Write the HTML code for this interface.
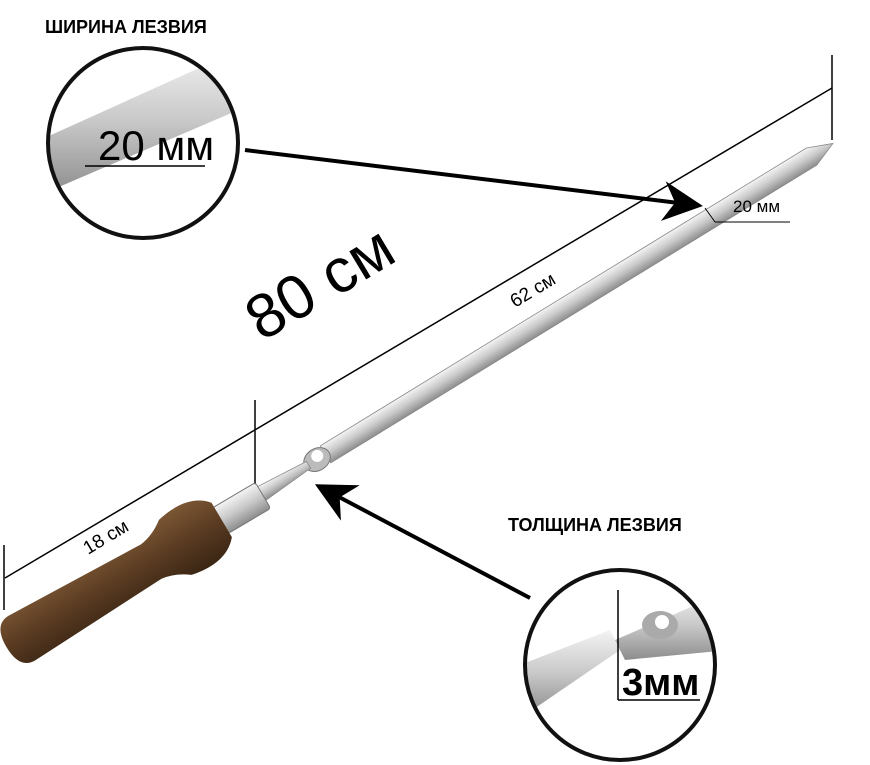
<!DOCTYPE html>
<html><head><meta charset="utf-8"><style>
html,body{margin:0;padding:0;background:#fff;width:870px;height:765px;overflow:hidden}
text{font-family:"Liberation Sans","DejaVu Sans",sans-serif}
</style></head><body>
<svg width="870" height="765" viewBox="0 0 870 765" xmlns="http://www.w3.org/2000/svg">
<defs>
<linearGradient id="steel" x1="0" y1="0" x2="0" y2="1">
<stop offset="0" stop-color="#f4f4f4"/><stop offset="0.5" stop-color="#c9c9c9"/><stop offset="1" stop-color="#8d8d8d"/>
</linearGradient>
<linearGradient id="wood" x1="0" y1="0" x2="0" y2="1">
<stop offset="0" stop-color="#7a5633"/><stop offset="0.5" stop-color="#5a3b22"/><stop offset="1" stop-color="#3a2614"/>
</linearGradient>
<marker id="ah" markerWidth="10" markerHeight="10" refX="8" refY="5" orient="auto" markerUnits="strokeWidth">
<path d="M0,0 L10,5 L0,10 L3,5 z" fill="#000"/></marker>
</defs>

<line x1="5" y1="578" x2="832" y2="88" stroke="#000" stroke-width="1.5"/>
<line x1="4" y1="545" x2="4" y2="610" stroke="#000" stroke-width="1.5"/>
<line x1="255" y1="400" x2="255" y2="485" stroke="#000" stroke-width="1.5"/>
<line x1="832" y1="55" x2="832" y2="140" stroke="#000" stroke-width="1.5"/>

<!-- blade -->
<g transform="translate(300,470) rotate(-31.5)">
<polygon points="30,-10 600,-10 625,0 600,10 30,10" fill="url(#steel)" stroke="#888" stroke-width="0.8"/>
<ellipse cx="20" cy="0" rx="14" ry="11" fill="#bbb" stroke="#777"/>
<circle cx="22" cy="-3" r="6" fill="#fff"/>
<polygon points="-45,-8 10,-4 10,4 -45,8" fill="url(#steel)" stroke="#888" stroke-width="0.8"/>
</g>
<line x1="705" y1="208" x2="715" y2="222" stroke="#000" stroke-width="1"/>
<line x1="715" y1="222" x2="790" y2="222" stroke="#000" stroke-width="1"/>

<!-- handle -->
<g transform="translate(22,638) rotate(-30.6)">
<rect x="230" y="-15" width="50" height="30" rx="3" fill="url(#steel)" stroke="#777"/>
<path d="M0,-26 Q-18,-26 -18,0 Q-18,26 0,26 L150,20 Q165,22 178,32 Q215,40 232,20 L232,-20 Q215,-40 178,-32 Q165,-22 150,-20 Z" fill="url(#wood)"/>
</g>

<text x="45" y="33" font-size="18" font-weight="bold">ШИРИНА ЛЕЗВИЯ</text>
<text x="508" y="531" font-size="18" font-weight="bold">ТОЛЩИНА ЛЕЗВИЯ</text>
<text transform="translate(262,342) rotate(-31)" font-size="62">80 см</text>
<text transform="translate(515,308) rotate(-31)" font-size="19">62 см</text>
<text transform="translate(88,555) rotate(-31)" font-size="19">18 см</text>
<text x="733" y="212" font-size="17">20 мм</text>

<line x1="245" y1="150" x2="695" y2="205" stroke="#000" stroke-width="4" marker-end="url(#ah)"/>
<line x1="530" y1="598" x2="322" y2="488" stroke="#000" stroke-width="4" marker-end="url(#ah)"/>

<clipPath id="c1"><circle cx="143" cy="143" r="95"/></clipPath>
<g clip-path="url(#c1)">
<rect x="40" y="40" width="210" height="210" fill="#fff"/>
<polygon points="40,140 250,45 250,105 40,195" fill="url(#steel)"/>
<line x1="85" y1="166" x2="205" y2="166" stroke="#000" stroke-width="1.5"/>
</g>
<circle cx="143" cy="143" r="95" fill="none" stroke="#111" stroke-width="4"/>
<text x="98" y="160" font-size="42">20 мм</text>

<clipPath id="c2"><circle cx="620" cy="665" r="95"/></clipPath>
<g clip-path="url(#c2)">
<polygon points="520,665 610,630 620,650 525,715" fill="url(#steel)"/>
<polygon points="615,640 730,590 730,650 625,660" fill="url(#steel)"/>
<ellipse cx="660" cy="625" rx="18" ry="14" fill="#aaa"/>
<circle cx="662" cy="622" r="7" fill="#fff"/>
</g>
<circle cx="620" cy="665" r="95" fill="none" stroke="#111" stroke-width="4"/>
<line x1="618" y1="590" x2="618" y2="700" stroke="#000" stroke-width="1.5"/>
<line x1="618" y1="700" x2="700" y2="700" stroke="#000" stroke-width="1.5"/>
<text x="622" y="695" font-size="38" font-weight="bold">3мм</text>
</svg>
</body></html>
